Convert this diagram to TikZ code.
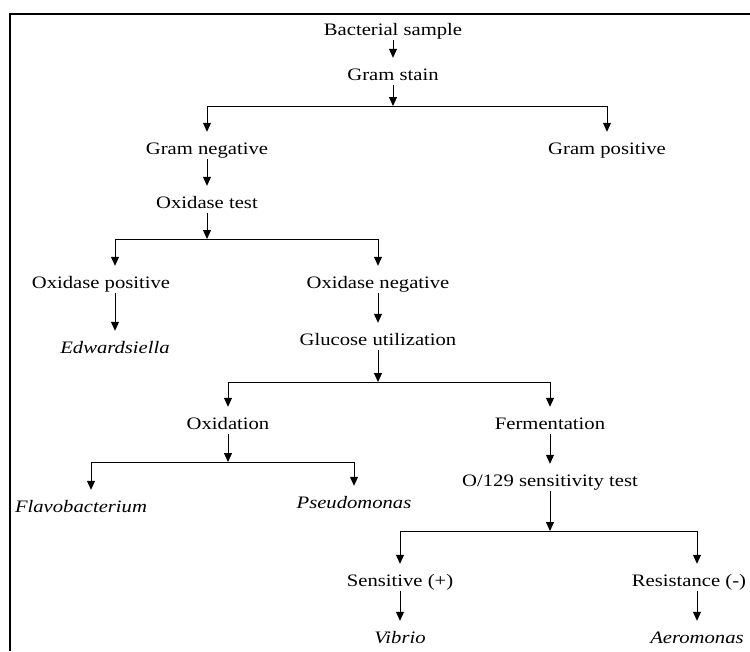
\documentclass[tikz,border=0pt]{standalone}
\usepackage{fontspec}
\setmainfont[FakeStretch=1.18]{Liberation Serif}
\usetikzlibrary{arrows.meta,positioning}

\begin{document}
\begin{tikzpicture}[x=1pt,y=-1pt,
    lbl/.style={anchor=base,inner xsep=2pt,inner ysep=0pt,text height=22pt,text depth=5pt,font=\fontsize{17.5}{20}\selectfont},
    arr/.style={-{Triangle[width=8pt,length=9pt]},line width=1pt}]
    \useasboundingbox (0,0) rectangle (750,651);
    \draw[line width=2pt] (10,651) -- (10,13.5) -- (750,13.5);

    % nodes
    \node[lbl] (sample) at (393,35) {Bacterial sample};
    \node[lbl] (stain) at (393,80) {Gram stain};
    \node[lbl] (neg) at (207,154) {Gram negative};
    \node[lbl] (pos) at (607,154) {Gram positive};
    \node[lbl] (oxtest) at (207,208) {Oxidase test};
    \node[lbl] (opos) at (101,288) {Oxidase positive};
    \node[lbl] (oneg) at (378,288) {Oxidase negative};
    \node[lbl] (edw) at (115,353) {\textit{Edwardsiella}};
    \node[lbl] (gluc) at (378,345) {Glucose utilization};
    \node[lbl] (oxid) at (228,429) {Oxidation};
    \node[lbl] (ferm) at (550,429) {Fermentation};
    \node[lbl] (flavo) at (81,512) {\textit{Flavobacterium}};
    \node[lbl] (pseudo) at (354,508) {\textit{Pseudomonas}};
    \node[lbl] (o129) at (550,486) {O/129 sensitivity test};
    \node[lbl] (sens) at (400,586) {Sensitive (+)};
    \node[lbl] (resist) at (689,586) {Resistance (-)};
    \node[lbl] (vibrio) at (400,643) {\textit{Vibrio}};
    \node[lbl] (aero) at (697,643) {\textit{Aeromonas}};

    \coordinate (j1) at (393,106);
    \coordinate (j2) at (207,239);
    \coordinate (j3) at (378,382);
    \coordinate (j4) at (228,462);
    \coordinate (j5) at (550,531);

    % connectors
    \draw[arr] (sample) -- (stain);
    \draw[arr] (stain) -- (j1);
    \draw[arr] (j1) -| (neg);
    \draw[arr] (j1) -| (pos);
    \draw[arr] (neg) -- (oxtest);
    \draw[arr] (oxtest) -- (j2);
    \draw[arr] (j2) -| (opos.north -| edw.north);
    \draw[arr] (j2) -| (oneg);
    \draw[arr] (opos.south -| edw.north) -- (edw);
    \draw[arr] (oneg) -- (gluc);
    \draw[arr] (gluc) -- (j3);
    \draw[arr] (j3) -| (oxid);
    \draw[arr] (j3) -| (ferm);
    \draw[arr] (oxid) -- (j4);
    \draw[arr] (j4) -| ([xshift=10pt]flavo.north);
    \draw[arr] (j4) -| (pseudo);
    \draw[arr] (ferm) -- (o129);
    \draw[arr] (o129) -- (j5);
    \draw[arr] (j5) -| (sens);
    \draw[arr] (j5) -| (resist.north -| aero.north);
    \draw[arr] (sens) -- (vibrio);
    \draw[arr] (resist.south -| aero.north) -- (aero);
\end{tikzpicture}
\end{document}
